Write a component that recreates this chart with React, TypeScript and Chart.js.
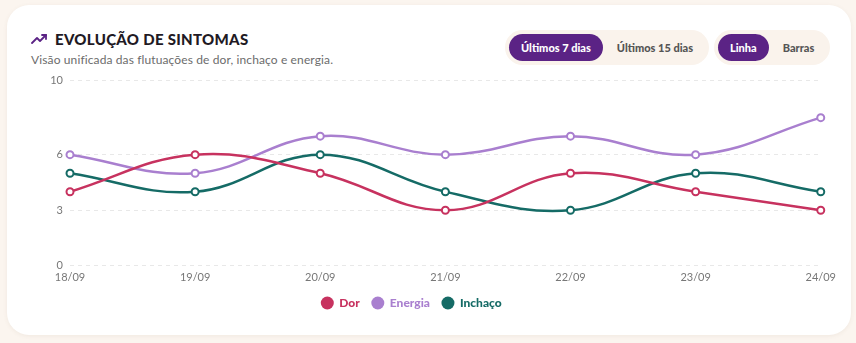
import React, { useEffect, useRef } from "react";
import { Chart, registerables } from "chart.js";

Chart.register(...registerables);

const days = ["18/09", "19/09", "20/09", "21/09", "22/09", "23/09", "24/09"];
const dor = [4, 6, 5, 3, 5, 4, 3];
const energia = [6, 5, 7, 6, 7, 6, 8];
const inchaco = [5, 4, 6, 4, 3, 5, 4];
const yTicks = [0, 3, 6, 10];

const FONT = "Lato, 'Noto Sans', sans-serif";
const DOR = "#c7325f";
const ENERGIA = "#a97fcf";
const INCHACO = "#156b66";
const PURPLE = "#5b2385";

// Nudges the legend row after Chart.js has laid it out.
const legendShift = {
  id: "legendShift",
  afterLayout(chart: any, _args: any, opts: any) {
    const lg = chart.legend;
    if (!lg) return;
    const dx = opts && typeof opts.dx === "number" ? opts.dx : 0;
    const dy = opts && typeof opts.dy === "number" ? opts.dy : 0;
    lg.left += dx;
    lg.right += dx;
    lg.top += dy;
    lg.bottom += dy;
  },
};

function TrendIcon() {
  return (
    <svg width="17" height="12" viewBox="0 0 17 12" style={{ display: "block" }}>
      <polyline
        points="1,10 6,5 9,8 15,2"
        fill="none"
        stroke={PURPLE}
        strokeWidth="1.8"
        strokeLinecap="round"
        strokeLinejoin="round"
      />
      <polyline
        points="11,2 15,2 15,6"
        fill="none"
        stroke={PURPLE}
        strokeWidth="1.8"
        strokeLinecap="round"
        strokeLinejoin="round"
      />
    </svg>
  );
}

function Pill({ label, active }: { label: string; active: boolean }) {
  return (
    <div
      style={{
        height: 27,
        padding: "0 12px",
        borderRadius: 14,
        background: active ? PURPLE : "transparent",
        color: active ? "#ffffff" : "#555555",
        fontSize: 11,
        fontWeight: 900,
        display: "flex",
        alignItems: "center",
        whiteSpace: "nowrap",
      }}
    >
      {label}
    </div>
  );
}

export default function App() {
  const canvasRef = useRef<HTMLCanvasElement | null>(null);

  useEffect(() => {
    if (!canvasRef.current) return;
    const ds = (label: string, data: number[], color: string) => ({
      label,
      data,
      borderColor: color,
      backgroundColor: color,
      borderWidth: 2.5,
      tension: 0.4,
      pointRadius: 3.5,
      pointBorderWidth: 2,
      pointBackgroundColor: "#ffffff",
      pointBorderColor: color,
      fill: false,
    });
    const chart = new Chart(canvasRef.current, {
      type: "line",
      data: {
        labels: days,
        datasets: [
          ds("Dor", dor, DOR),
          ds("Energia", energia, ENERGIA),
          ds("Inchaço", inchaco, INCHACO),
        ],
      },
      plugins: [legendShift],
      options: {
        animation: false,
        responsive: false,
        maintainAspectRatio: false,
        layout: { padding: { top: 4, left: 0, right: 0, bottom: 0 } },
        plugins: {
          tooltip: { enabled: false },
          legendShift: { dx: -21, dy: -4 },
          legend: {
            position: "bottom",
            labels: {
              usePointStyle: true,
              pointStyle: "circle",
              boxWidth: 13,
              boxHeight: 9.2,
              padding: 12,
              font: { family: FONT, size: 12, weight: "900" },
              generateLabels: (c: any) =>
                c.data.datasets.map((d: any, i: number) => ({
                  text: d.label,
                  fillStyle: d.borderColor,
                  strokeStyle: d.borderColor,
                  fontColor: d.borderColor,
                  lineWidth: 0,
                  pointStyle: "circle",
                  hidden: false,
                  datasetIndex: i,
                })),
            },
          },
        },
        scales: {
          x: {
            grid: { display: false, drawTicks: false },
            border: { display: false },
            ticks: {
              color: "#777777",
              font: { family: FONT, size: 11 },
              padding: 5,
              maxRotation: 0,
            },
          },
          y: {
            min: 0,
            max: 10,
            afterBuildTicks: (scale: any) => {
              scale.ticks = yTicks.map((v) => ({ value: v }));
            },
            afterFit: (scale: any) => {
              scale.width = 46;
            },
            grid: {
              color: "#e8e8e8",
              drawTicks: false,
              lineWidth: 1,
            },
            border: { display: false, dash: [4, 4] },
            ticks: {
              color: "#777777",
              font: { family: FONT, size: 11 },
              padding: 7,
            },
          },
        },
      },
    } as any);
    return () => chart.destroy();
  }, []);

  return (
    <div
      style={{
        position: "fixed",
        left: 0,
        top: 0,
        width: 856,
        height: 343,
        background: "#fbf5ef",
        fontFamily: FONT,
        overflow: "hidden",
      }}
    >
      <div
        style={{
          position: "absolute",
          left: 7,
          top: 5,
          width: 844,
          height: 330,
          background: "#ffffff",
          borderRadius: 22,
          boxShadow: "0 1px 4px rgba(120,90,60,0.08)",
        }}
      >
        <div
          style={{
            position: "absolute",
            left: 24,
            top: 25,
            display: "flex",
            alignItems: "center",
            gap: 7,
          }}
        >
          <TrendIcon />
          <span
            style={{
              fontSize: 15,
              fontWeight: 900,
              color: "#1f1a24",
              letterSpacing: 0.3,
            }}
          >
            EVOLUÇÃO DE SINTOMAS
          </span>
        </div>
        <div
          style={{
            position: "absolute",
            left: 24,
            top: 47,
            fontSize: 12,
            letterSpacing: 0.12,
            color: "#6c6c6c",
          }}
        >
          Visão unificada das flutuações de dor, inchaço e energia.
        </div>
        <div
          style={{
            position: "absolute",
            left: 498,
            top: 25,
            height: 35,
            padding: "0 4px",
            borderRadius: 18,
            background: "#faf3ec",
            display: "flex",
            alignItems: "center",
            gap: 2,
          }}
        >
          <Pill label="Últimos 7 dias" active={true} />
          <Pill label="Últimos 15 dias" active={false} />
        </div>
        <div
          style={{
            position: "absolute",
            left: 707,
            top: 25,
            height: 35,
            padding: "0 4px",
            borderRadius: 18,
            background: "#faf3ec",
            display: "flex",
            alignItems: "center",
            gap: 2,
          }}
        >
          <Pill label="Linha" active={true} />
          <Pill label="Barras" active={false} />
        </div>
        <canvas
          ref={canvasRef}
          width={817}
          height={256}
          style={{ position: "absolute", left: 17, top: 62 }}
        />
      </div>
    </div>
  );
}
